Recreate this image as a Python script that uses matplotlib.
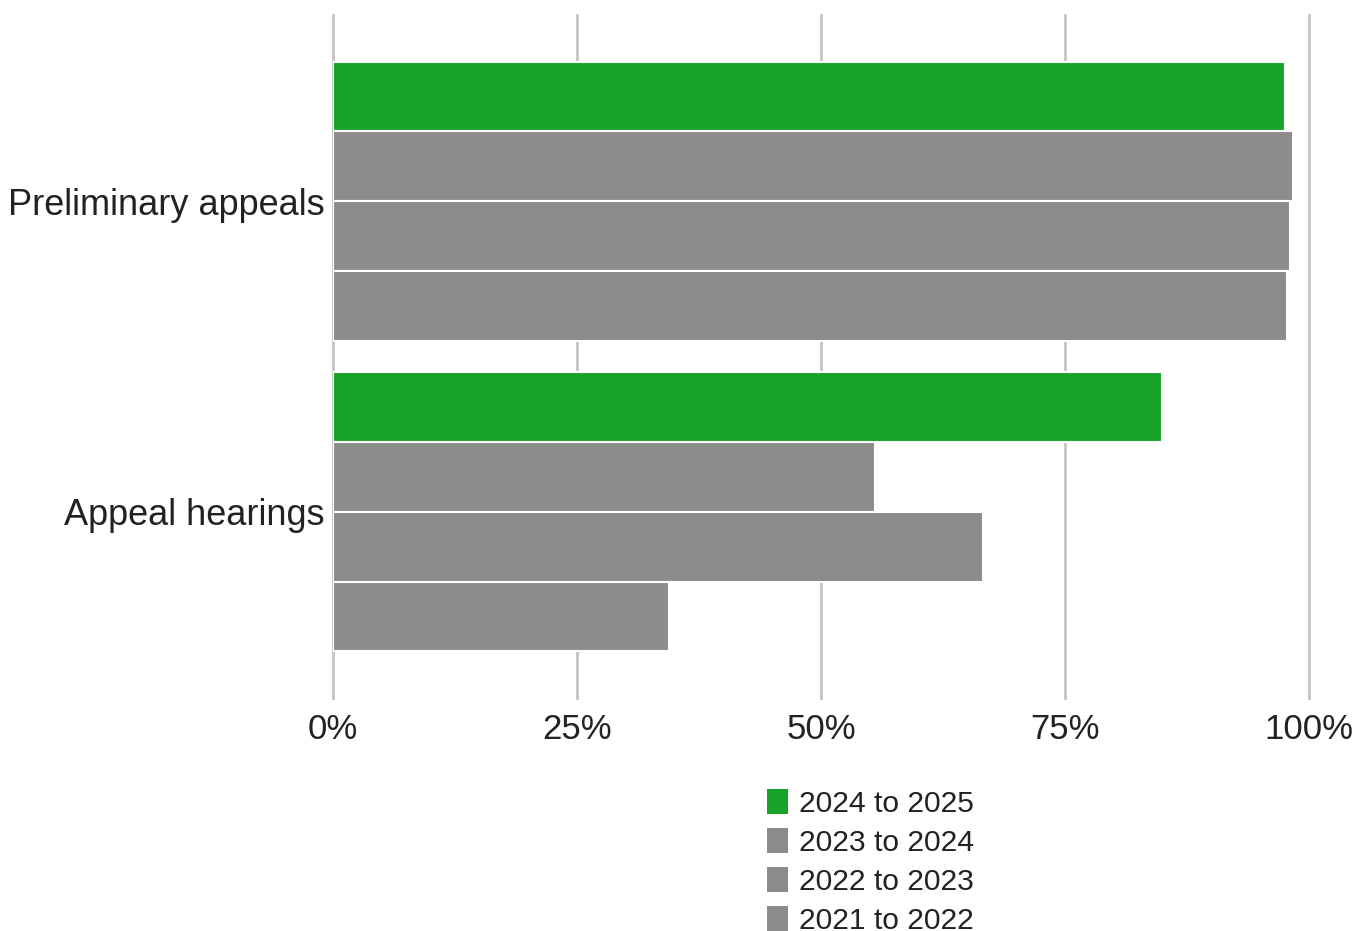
import numpy as np
import matplotlib
matplotlib.use("Agg")
import matplotlib.pyplot as plt
from matplotlib.patches import Patch
from matplotlib.ticker import FuncFormatter

categories = ["Preliminary appeals", "Appeal hearings"]
years = ["2024 to 2025", "2023 to 2024", "2022 to 2023", "2021 to 2022"]
values_2024_25 = [97.5, 84.9]
values_2023_24 = [98.4, 55.5]
values_2022_23 = [98.1, 66.6]
values_2021_22 = [97.7, 34.4]
series = [values_2024_25, values_2023_24, values_2022_23, values_2021_22]
colors = ["#17a32a", "#8c8c8c", "#8c8c8c", "#8c8c8c"]

plt.rcParams['font.family'] = ['Liberation Sans', 'DejaVu Sans']

fig = plt.figure(figsize=(13.58, 9.31), dpi=100)
ax = fig.add_axes([333 / 1358, 1 - 698 / 931, (1309 - 333) / 1358, (698 - 15) / 931])

y = np.arange(len(categories))
bar_h = 0.225
for i, (vals, col) in enumerate(zip(series, colors)):
    offs = (i - 1.5) * bar_h
    ax.barh(y + offs, vals, height=bar_h, color=col, edgecolor='white',
            linewidth=1.5, zorder=3)

ax.set_xlim(0, 100)
ax.set_ylim(1.6, -0.6)
ax.set_xticks([0, 25, 50, 75, 100])
ax.xaxis.set_major_formatter(FuncFormatter(lambda v, p: f"{v:.0f}%"))
ax.set_yticks(y)
ax.set_yticklabels(categories)
ax.tick_params(axis='x', length=0, labelsize=25, pad=11, colors='#222222')
ax.tick_params(axis='y', length=0, labelsize=26, pad=6, colors='#222222')
ax.grid(axis='x', color='#c4c4c4', linewidth=2, zorder=0)
for gl in ax.get_xgridlines():
    gl.set_clip_on(False)
ax.set_axisbelow(True)
for s in ax.spines.values():
    s.set_visible(False)

handles = [Patch(facecolor=c, edgecolor='none') for c in colors]
fig.legend(handles, years, loc='upper left', bbox_to_anchor=(758 / 1358, 1 - 780 / 931),
           frameon=False, fontsize=21.6, handlelength=0.7, handleheight=0.9,
           handletextpad=0.38, labelspacing=0.34, labelcolor='#222222',
           borderaxespad=0, borderpad=0.3)

fig.savefig("out.png", dpi=100)
